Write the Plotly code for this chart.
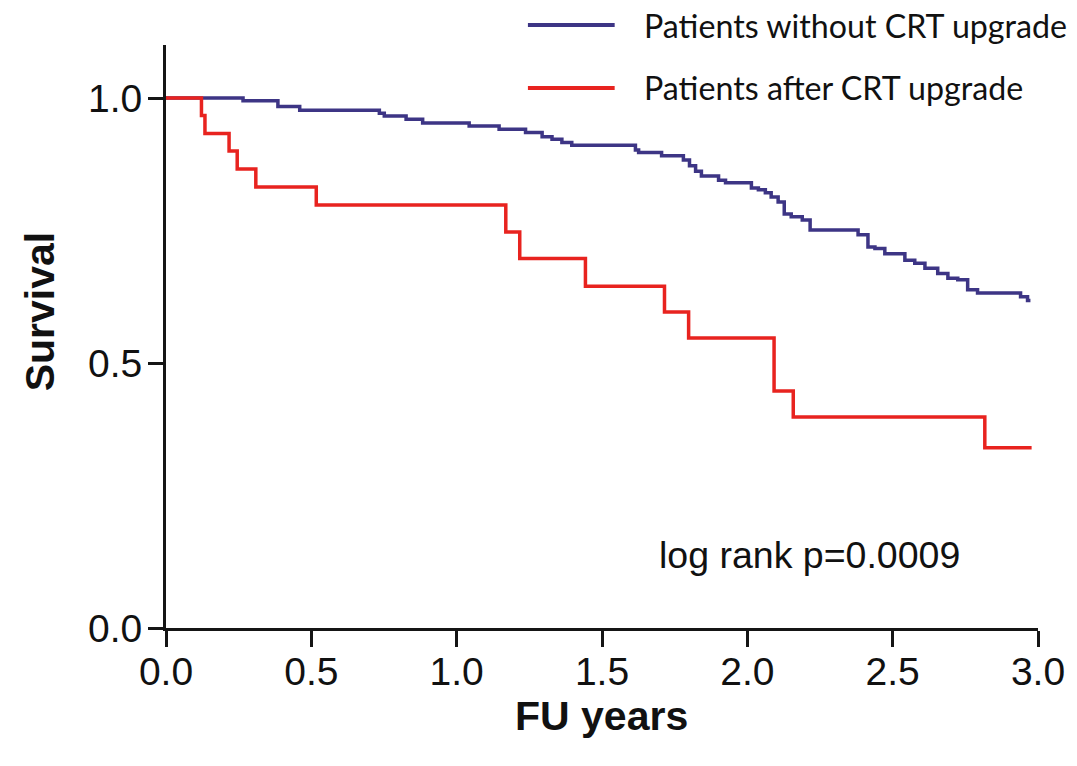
import plotly.graph_objects as go

# ---- data ----
red_name = "Patients after CRT upgrade"
red_t = [0.0, 0.122, 0.134, 0.217, 0.245, 0.309, 0.517, 1.169, 1.217, 1.443,
         1.715, 1.798, 2.092, 2.158, 2.817, 2.978]
red_s = [1.0, 0.967, 0.933, 0.900, 0.866, 0.832, 0.798, 0.747, 0.697, 0.645,
         0.596, 0.547, 0.447, 0.398, 0.340, 0.340]

blue_name = "Patients without CRT upgrade"
blue_t = [0.0, 0.265, 0.385, 0.460, 0.734, 0.751, 0.826, 0.883, 1.043, 1.146,
          1.237, 1.294, 1.328, 1.362, 1.396, 1.615, 1.626, 1.705, 1.780, 1.801,
          1.822, 1.842, 1.901, 1.925, 2.014, 2.038, 2.062, 2.082, 2.106, 2.127,
          2.151, 2.189, 2.216, 2.381, 2.415, 2.439, 2.473, 2.542, 2.576, 2.611,
          2.655, 2.690, 2.724, 2.758, 2.792, 2.940, 2.964, 2.974]
blue_s = [1.0, 0.995, 0.984, 0.977, 0.971, 0.966, 0.960, 0.953, 0.947, 0.941,
          0.935, 0.927, 0.922, 0.916, 0.911, 0.902, 0.897, 0.891, 0.883, 0.872,
          0.862, 0.853, 0.845, 0.840, 0.830, 0.827, 0.821, 0.813, 0.804, 0.781,
          0.776, 0.770, 0.751, 0.742, 0.719, 0.716, 0.706, 0.694, 0.688, 0.679,
          0.669, 0.660, 0.657, 0.638, 0.632, 0.625, 0.618, 0.618]

x_ticks = [0.0, 0.5, 1.0, 1.5, 2.0, 2.5, 3.0]
y_ticks = [0.0, 0.5, 1.0]
p_text = "log rank p=0.0009"

BLUE = "#3d3585"
RED = "#e8231f"
AXC = "#151515"

fig = go.Figure()
fig.add_trace(go.Scatter(x=blue_t, y=blue_s, mode="lines", name=blue_name,
                         line=dict(color=BLUE, width=3.5, shape="hv"),
                         showlegend=False, cliponaxis=False))
fig.add_trace(go.Scatter(x=red_t, y=red_s, mode="lines", name=red_name,
                         line=dict(color=RED, width=3.5, shape="hv"),
                         showlegend=False, cliponaxis=False))

tickfont = dict(family="Liberation Sans, Arial, sans-serif", size=39, color="#111")

fig.update_xaxes(range=[0, 3], tickvals=x_ticks,
                 ticktext=[f"{v:.1f}" for v in x_ticks],
                 showgrid=False, zeroline=False, showline=True,
                 linecolor=AXC, linewidth=3, ticks="outside", ticklen=16,
                 tickwidth=3, tickcolor=AXC, tickfont=tickfont,
                 ticklabelstandoff=-9)
fig.update_yaxes(range=[0, 1.1], tickvals=y_ticks,
                 ticktext=[f"{v:.1f}" for v in y_ticks],
                 showgrid=False, zeroline=False, showline=True,
                 linecolor=AXC, linewidth=3, ticks="outside", ticklen=15,
                 tickwidth=3, tickcolor=AXC, tickfont=tickfont,
                 ticklabelstandoff=-2)

# body margin is removed (post_script), so the figure sits at (0, 0)
W, H = 1077, 766
L, T = 166, 45
R = W - 1040.6
B = H - 628
pw, ph = W - L - R, H - T - B

def px(xs):  # screen px -> paper
    return (xs - L) / pw

def py(ys):
    return (H - B - ys) / ph

annotations = [
    dict(text="<b>FU years</b>", x=px(603), y=py(716), xref="paper", yref="paper",
         showarrow=False, xanchor="center", yanchor="middle",
         font=dict(family="Liberation Sans, Arial, sans-serif", size=41, color="#111")),
    dict(text="<b>Survival</b>", x=px(40), y=py(311), xref="paper", yref="paper",
         showarrow=False, xanchor="center", yanchor="middle", textangle=-90,
         font=dict(family="Liberation Sans, Arial, sans-serif", size=41, color="#111")),
    dict(text=p_text, x=px(811), y=py(555), xref="paper", yref="paper",
         showarrow=False, xanchor="center", yanchor="middle",
         font=dict(family="Liberation Sans, Arial, sans-serif", size=37.5, color="#111")),
    dict(text=blue_name, x=px(643), y=py(25), xref="paper", yref="paper",
         showarrow=False, xanchor="left", yanchor="middle",
         font=dict(family="Lato, Open Sans, sans-serif", size=32.2, color="#111")),
    dict(text=red_name, x=px(643), y=py(88), xref="paper", yref="paper",
         showarrow=False, xanchor="left", yanchor="middle",
         font=dict(family="Lato, Open Sans, sans-serif", size=32.2, color="#111")),
]

shapes = [
    dict(type="line", xref="paper", yref="paper", x0=px(529), x1=px(616),
         y0=py(25), y1=py(25), line=dict(color=BLUE, width=4)),
    dict(type="line", xref="paper", yref="paper", x0=px(529), x1=px(616),
         y0=py(88), y1=py(88), line=dict(color=RED, width=4)),
]

fig.update_layout(width=W, height=H, autosize=False,
                  margin=dict(l=L, r=R, t=T, b=B),
                  plot_bgcolor="white", paper_bgcolor="white",
                  annotations=annotations, shapes=shapes)

fig.write_html("out.html", config={"displayModeBar": False},
               post_script="document.body.style.margin='0';document.body.style.overflow='hidden';")
